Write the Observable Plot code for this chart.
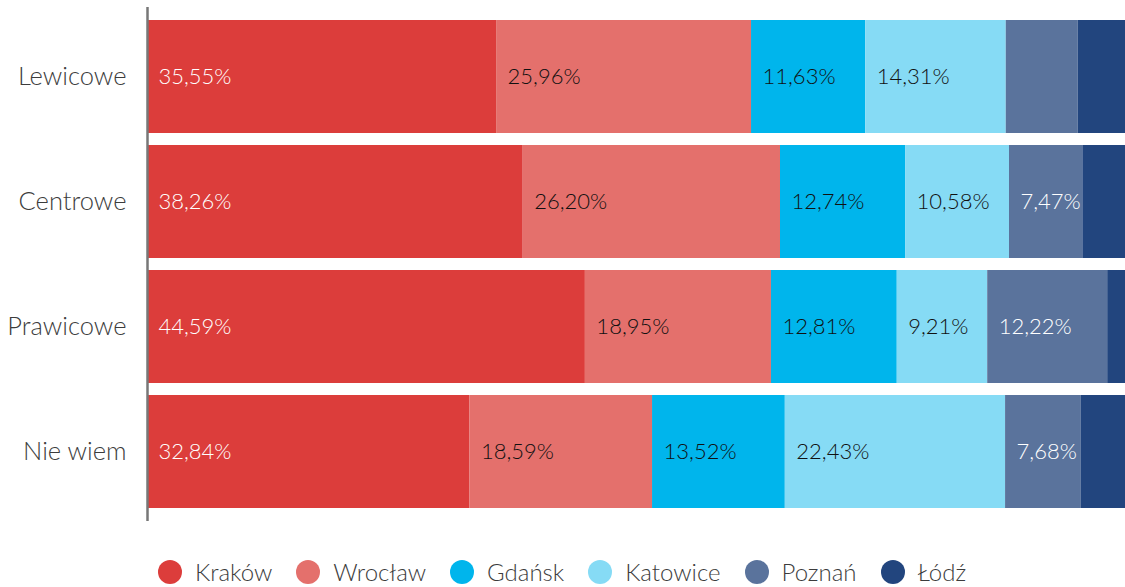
<!DOCTYPE html>
<html>
<head>
<meta charset="utf-8">
<script src="https://cdn.jsdelivr.net/npm/d3@7"></script>
<script src="https://cdn.jsdelivr.net/npm/@observablehq/plot@0.6"></script>
<style>
  html, body { margin: 0; padding: 0; background: #fff; }
  body { width: 1125px; height: 587px; overflow: hidden; font-family: Lato, "Open Sans", sans-serif; }
  #legend { display: flex; justify-content: flex-start; padding-left: 158px; margin-top: 28px; align-items: center; font-size: 24px; line-height: 28px; color: #3c3c3c; font-weight: 300; }
  #legend .item { display: flex; align-items: center; margin-right: 24px; white-space: nowrap; }
  #legend .dot { width: 24px; height: 24px; border-radius: 50%; margin-right: 13px; }
</style>
</head>
<body>
<div id="chart"></div>
<div id="legend"></div>
<script>
const categories = ["Lewicowe", "Centrowe", "Prawicowe", "Nie wiem"];
const cities = ["Kraków", "Wrocław", "Gdańsk", "Katowice", "Poznań", "Łódź"];
const colors = ["#dc3d3b", "#e4706c", "#00b5ec", "#86dbf5", "#5a739c", "#22457e"];
const labelColors = ["#ffffff", "#111111", "#111111", "#111111", "#ffffff", "#ffffff"];
const krakow   = [35.55, 38.26, 44.59, 32.84];
const wroclaw  = [25.96, 26.20, 18.95, 18.59];
const gdansk   = [11.63, 12.74, 12.81, 13.52];
const katowice = [14.31, 10.58, 9.21, 22.43];
const poznan   = [7.33, 7.47, 12.22, 7.68];
const lodz     = [5.22, 4.75, 2.22, 4.94];
const showLabel = [
  [true, true, true, true, false, false],
  [true, true, true, true, true, false],
  [true, true, true, true, true, false],
  [true, true, true, true, true, false]
];

const series = [krakow, wroclaw, gdansk, katowice, poznan, lodz];
const data = [];
categories.forEach((cat, i) => {
  let x0 = 0;
  cities.forEach((city, j) => {
    const v = series[j][i];
    data.push({cat, city, value: v, x1: x0, x2: x0 + v, show: showLabel[i][j], lc: labelColors[j]});
    x0 += v;
  });
});
const fmt = v => v.toFixed(2).replace(".", ",") + "%";

const chart = Plot.plot({
  width: 1125,
  height: 530,
  marginLeft: 147,
  marginRight: 0,
  marginTop: 7,
  marginBottom: 9,
  style: {fontFamily: "Lato, 'Open Sans', sans-serif", background: "#fff", overflow: "hidden"},
  x: {domain: [0, 100], range: [147, 1129], axis: null},
  y: {domain: categories, padding: 0.1, label: null, tickSize: 0, tickPadding: 21},
  color: {domain: cities, range: colors},
  marks: [
    Plot.rectX(data, {y: "cat", x1: "x1", x2: "x2", fill: "city"}),
    Plot.text(data.filter(d => d.show), {
      y: "cat", x: "x1", text: d => fmt(d.value), textAnchor: "start", dx: 11,
      fill: "lc", fontSize: 22, fontWeight: 300
    }),
    Plot.ruleX([0], {stroke: "#777", strokeWidth: 2.5})
  ]
});
d3.select(chart).selectAll("g[aria-label='y-axis tick label']")
  .attr("font-size", 25.5).attr("fill", "#3c3c3c").attr("font-weight", 300);
document.getElementById("chart").appendChild(chart);

const legend = document.getElementById("legend");
cities.forEach((c, i) => {
  const it = document.createElement("div");
  it.className = "item";
  it.innerHTML = `<span class="dot" style="background:${colors[i]}"></span><span>${c}</span>`;
  legend.appendChild(it);
});
</script>
</body>
</html>
